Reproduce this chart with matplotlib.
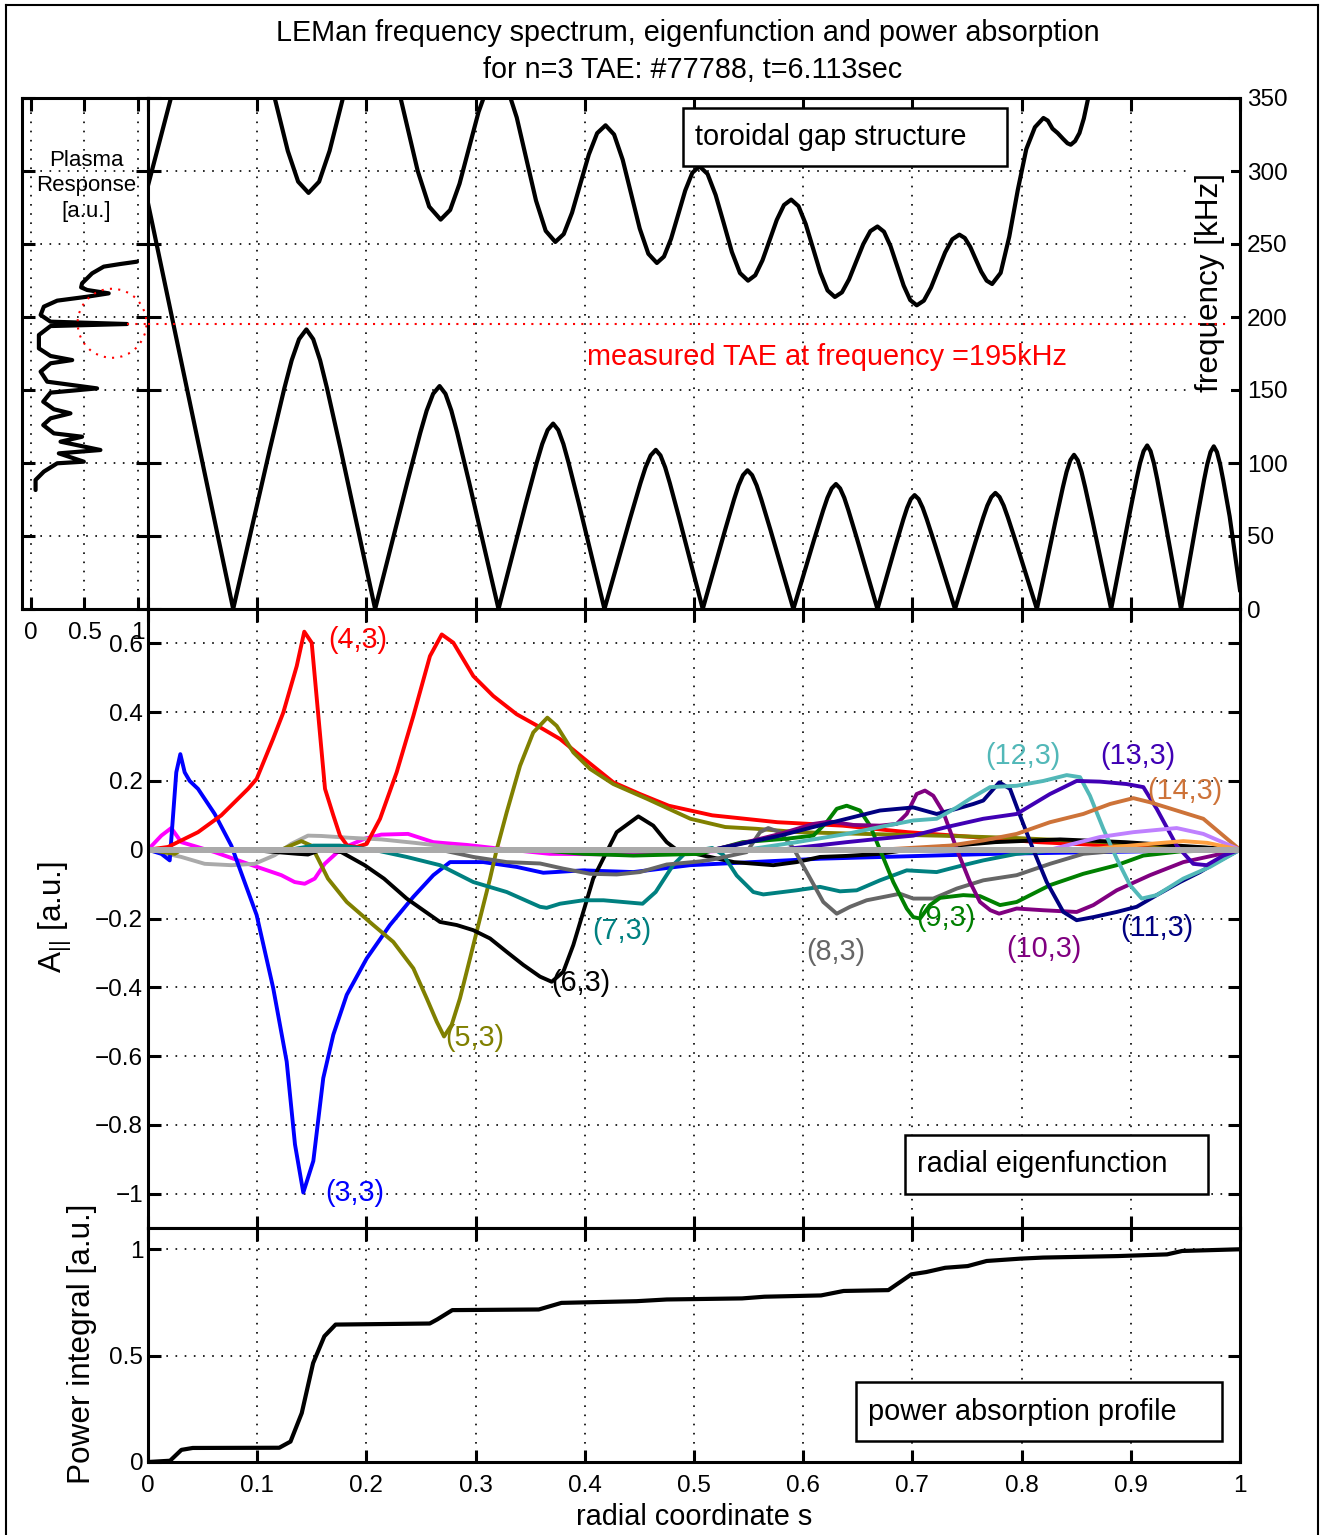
import matplotlib
matplotlib.use('Agg')
import matplotlib.pyplot as plt
from matplotlib.patches import Rectangle, Ellipse
from matplotlib.lines import Line2D
import numpy as np

plt.rcParams['font.family'] = ['Liberation Sans', 'DejaVu Sans']
plt.rcParams['mathtext.fontset'] = 'custom'
plt.rcParams['mathtext.rm'] = 'Liberation Sans'
plt.rcParams['mathtext.it'] = 'Liberation Sans'
plt.rcParams['axes.unicode_minus'] = True

# ---------------- data: toroidal gap structure ----------------
gap_lower_s = [0.0, 0.078,
               0.1115, 0.1249, 0.1316, 0.1383, 0.145, 0.1513, 0.1576, 0.1639, 0.1765, 0.208,
               0.2375, 0.2493, 0.2552, 0.2611, 0.267, 0.2724, 0.2778, 0.2832, 0.294, 0.321,
               0.346, 0.356, 0.361, 0.366, 0.371, 0.3757, 0.3804, 0.3851, 0.3945, 0.418,
               0.4415, 0.4509, 0.4556, 0.4603, 0.465, 0.4693, 0.4736, 0.4779, 0.4865, 0.508,
               0.5285, 0.5367, 0.5408, 0.5449, 0.549, 0.5532, 0.5574, 0.5616, 0.570, 0.591,
               0.6105, 0.6183, 0.6222, 0.6261, 0.630, 0.6338, 0.6376, 0.6414, 0.649, 0.668,
               0.685, 0.6918, 0.6952, 0.6986, 0.702, 0.7057, 0.7094, 0.7131, 0.7205, 0.739,
               0.7575, 0.7649, 0.7686, 0.7723, 0.776, 0.7798, 0.7836, 0.7874, 0.795, 0.814,
               0.831, 0.8378, 0.8412, 0.8446, 0.848, 0.8514, 0.8548, 0.8582, 0.865, 0.882,
               0.8985, 0.9051, 0.9084, 0.9117, 0.915, 0.9181, 0.9212, 0.9243, 0.9305, 0.946,
               0.961, 0.967, 0.970, 0.973, 0.976, 0.9789, 0.9818, 0.9847, 0.9905, 1.0]
gap_lower_f = [278, 0,
               109.2, 151.3, 170.4, 184.8, 191.5, 184.8, 170.4, 151.3, 109.2, 0,
               87.0, 120.6, 135.9, 147.4, 152.7, 147.4, 135.9, 120.6, 87.0, 0,
               72.4, 100.3, 113.0, 122.6, 127, 122.6, 113.0, 100.3, 72.4, 0,
               62.1, 86.1, 97.0, 105.2, 109, 105.2, 97.0, 86.1, 62.1, 0,
               54.2, 75.1, 84.6, 91.7, 95, 91.7, 84.6, 75.1, 54.2, 0,
               48.8, 67.6, 76.2, 82.6, 85.6, 82.6, 76.2, 67.6, 48.8, 0,
               44.5, 61.6, 69.4, 75.3, 78, 75.3, 69.4, 61.6, 44.5, 0,
               45.3, 62.8, 70.8, 76.7, 79.5, 76.7, 70.8, 62.8, 45.3, 0,
               60.2, 83.4, 94.0, 101.9, 105.6, 101.9, 94.0, 83.4, 60.2, 0,
               63.8, 88.5, 99.7, 108.1, 112, 108.1, 99.7, 88.5, 63.8, 0,
               63.5, 88.0, 99.1, 107.5, 111.4, 107.5, 99.1, 88.0, 63.5, 13]

gap_upper_s = [0.0, 0.021, 0.045, 0.07, 0.09, 0.0995, 0.109, 0.1185, 0.128, 0.1375, 0.147,
               0.1567, 0.1663, 0.176, 0.1857, 0.1953, 0.205,
               0.2155, 0.226, 0.2365, 0.247, 0.2575, 0.268,
               0.2767, 0.2853, 0.294, 0.3027, 0.3113, 0.32,
               0.3288, 0.3377, 0.3465, 0.3553, 0.3642, 0.373,
               0.3807, 0.3883, 0.396, 0.4037, 0.4113, 0.419,
               0.4268, 0.4347, 0.4425, 0.4503, 0.4582, 0.466,
               0.4725, 0.479, 0.4855, 0.492, 0.4985, 0.505,
               0.5124, 0.5198, 0.5273, 0.5347, 0.5421, 0.5495,
               0.5561, 0.5627, 0.5693, 0.5758, 0.5824, 0.589,
               0.5957, 0.6023, 0.609, 0.6157, 0.6223, 0.629,
               0.6355, 0.642, 0.6485, 0.655, 0.6615, 0.668,
               0.674, 0.68, 0.686, 0.692, 0.698, 0.704,
               0.7105, 0.717, 0.7235, 0.73, 0.7365, 0.743,
               0.748, 0.753, 0.758, 0.763, 0.768, 0.773,
               0.7808, 0.7887, 0.7965, 0.8043, 0.8122, 0.820,
               0.824, 0.8283, 0.833, 0.838, 0.842, 0.845,
               0.849, 0.853, 0.857, 0.861, 0.868]
gap_upper_f = [290, 350, 385, 398, 400, 392.3, 371.3, 342.5, 313.8, 292.7, 285,
               292.7, 313.8, 342.5, 371.3, 392.3, 400,
               391.1, 366.7, 333.4, 300.0, 275.6, 266.7,
               273.3, 291.3, 315.9, 340.4, 358.4, 365,
               357.4, 336.6, 308.2, 279.8, 259.0, 251.4,
               256.8, 271.4, 291.4, 311.3, 325.9, 331.3,
               325.0, 307.7, 284.2, 260.6, 243.3, 237,
               241.4, 253.6, 270.1, 286.7, 298.8, 303.2,
               298.0, 283.6, 264.1, 244.5, 230.1, 224.9,
               228.6, 238.8, 252.7, 266.5, 276.7, 280.4,
               275.9, 263.7, 247.1, 230.4, 218.2, 213.7,
               216.9, 225.8, 237.9, 249.9, 258.8, 262,
               258.4, 248.5, 235, 221.5, 211.6, 208,
               211.2, 220.1, 232.2, 244.3, 253.2, 256.4,
               254.1, 248.0, 239.5, 231.1, 224.9, 222.6,
               230.2, 255, 287, 315, 330, 336.3,
               334.5, 329, 326, 322, 319, 318,
               320.5, 326, 336, 350, 375]

measured_freq = 195

# ---------------- data: plasma response ----------------
resp_x = [0.988, 0.833, 0.679, 0.571, 0.478, 0.469, 0.525, 0.725, 0.525, 0.247,
          0.123, 0.093, 0.185, 0.895, 0.185, 0.077, 0.077, 0.185, 0.386, 0.185,
          0.093, 0.154, 0.617, 0.185, 0.117, 0.216, 0.370, 0.185, 0.117, 0.216,
          0.478, 0.278, 0.648, 0.262, 0.494, 0.247, 0.123, 0.046, 0.046]
resp_f = [237.9, 236.3, 234.5, 229.9, 223.1, 220.3, 218.5, 216.2, 213.9, 211.2,
          207.1, 201.4, 196.8, 195.2, 193.8, 187.7, 178.5, 173.3, 170.5, 168.3,
          162.6, 155.7, 151.1, 148.2, 142.0, 136.8, 134.0, 130.6, 126.0, 120.3,
          118.0, 114.6, 108.9, 106.6, 100.9, 99.8, 94.1, 88.4, 81.5]

# ---------------- data: radial eigenfunction ----------------
s_mag = [0, 0.0122, 0.0213, 0.0305, 0.0611, 0.0916, 0.1221, 0.1343, 0.1435, 0.1527, 0.1618,
         0.177, 0.1984, 0.2137, 0.2381, 0.2613, 0.2918, 0.3223, 0.3681, 0.4441, 0.5513, 1.0]
A_mag = [0, 0.041, 0.063, 0.022, -0.007, -0.041, -0.074, -0.094, -0.099, -0.084, -0.041,
         0.003, 0.032, 0.044, 0.046, 0.022, 0.014, 0.003, -0.012, -0.014, 0, 0]

s_lg = [0, 0.0305, 0.0519, 0.0763, 0.0977, 0.116, 0.1312, 0.1465, 0.1587, 0.1832, 0.2137,
        0.2442, 0.2766, 0.3223, 1.0]
A_lg = [0, -0.021, -0.041, -0.045, -0.041, -0.016, 0.017, 0.041, 0.04, 0.035, 0.03,
        0.02, 0.008, 0, 0]

s_33 = [0, 0.0122, 0.0199, 0.0259, 0.0296, 0.0336, 0.0382, 0.0458, 0.0611, 0.0763,
        0.0873, 0.0995, 0.1147, 0.127, 0.1346, 0.1422, 0.1514, 0.1605, 0.1697, 0.182,
        0.2003, 0.2216, 0.243, 0.2613, 0.2766, 0.3071, 0.3376, 0.362, 0.3986, 0.4444,
        0.4963, 0.6163, 0.7756, 1.0]
A_33 = [0, -0.012, -0.031, 0.225, 0.278, 0.225, 0.2, 0.177, 0.104, 0.012,
        -0.084, -0.19, -0.403, -0.616, -0.857, -0.997, -0.905, -0.664, -0.538, -0.422,
        -0.316, -0.219, -0.137, -0.074, -0.036, -0.036, -0.05, -0.067, -0.06, -0.065,
        -0.045, -0.026, -0.012, 0]

s_43 = [0, 0.0183, 0.0458, 0.0671, 0.0916, 0.0995, 0.1145, 0.1239, 0.1362, 0.1431,
        0.1499, 0.156, 0.1621, 0.1697, 0.1758, 0.1825, 0.1911, 0.2003, 0.2125, 0.2277,
        0.243, 0.2582, 0.269, 0.2796, 0.2979, 0.3162, 0.3376, 0.359, 0.3773, 0.4011,
        0.4261, 0.4505, 0.4768, 0.5167, 0.5764, 0.6361, 0.6958, 0.7555, 0.815, 0.8947, 1.0]
A_43 = [0, 0.008, 0.051, 0.1, 0.177, 0.206, 0.322, 0.399, 0.534, 0.634,
        0.602, 0.389, 0.177, 0.1, 0.041, 0.012, 0.008, 0.017, 0.09, 0.225,
        0.389, 0.563, 0.626, 0.602, 0.505, 0.447, 0.394, 0.356, 0.322, 0.26,
        0.196, 0.162, 0.128, 0.1, 0.08, 0.07, 0.051, 0.037, 0.022, 0.01, 0]

s_53 = [0, 0.0245, 0.0305, 0.1221, 0.1343, 0.1404, 0.1495, 0.1557, 0.1648, 0.182,
        0.2063, 0.2246, 0.243, 0.2552, 0.2644, 0.2711, 0.2781, 0.2857, 0.2949, 0.304,
        0.3132, 0.3193, 0.3285, 0.3407, 0.3528, 0.3657, 0.3743, 0.3895, 0.4048, 0.4261,
        0.457, 0.4967, 0.5286, 0.5565, 0.5962, 0.656, 0.7356, 0.7953, 0.875, 1.0]
A_53 = [0, -0.012, 0, 0, 0.017, 0.025, 0.012, -0.026, -0.084, -0.152,
        -0.219, -0.268, -0.345, -0.432, -0.5, -0.543, -0.509, -0.432, -0.316, -0.2,
        -0.084, 0, 0.109, 0.244, 0.341, 0.384, 0.36, 0.283, 0.235, 0.191,
        0.148, 0.09, 0.066, 0.061, 0.051, 0.046, 0.04, 0.034, 0.022, 0]

s_63 = [0, 0.0916, 0.1374, 0.1465, 0.1587, 0.177, 0.1984, 0.2161, 0.2369, 0.2521,
        0.2674, 0.2827, 0.2979, 0.3132, 0.3285, 0.3437, 0.359, 0.3697, 0.3803, 0.3895,
        0.3986, 0.4077, 0.4169, 0.4292, 0.449, 0.4627, 0.475, 0.4841, 0.5087, 0.5365,
        0.5726, 0.594, 0.6154, 0.6398, 0.6703, 0.6958, 0.7755, 0.8352, 0.8947, 1.0]
A_63 = [0, 0, -0.012, -0.014, 0, -0.007, -0.045, -0.084, -0.142, -0.176,
        -0.21, -0.219, -0.234, -0.258, -0.297, -0.335, -0.369, -0.384, -0.355, -0.277,
        -0.181, -0.084, -0.026, 0.051, 0.097, 0.07, 0.022, 0, -0.017, -0.036,
        -0.045, -0.036, -0.021, -0.018, -0.012, 0, 0.022, 0.03, 0.022, 0]

s_73 = [0, 0.13, 0.1514, 0.1758, 0.2063, 0.2369, 0.2674, 0.2979, 0.3285, 0.359,
        0.3651, 0.3773, 0.3986, 0.4171, 0.4529, 0.4649, 0.4808, 0.4928, 0.5167, 0.5268,
        0.5391, 0.5543, 0.5635, 0.594, 0.6154, 0.6337, 0.649, 0.6703, 0.6948, 0.7222,
        0.7466, 0.7649, 0.7955, 0.8352, 1.0]
A_73 = [0, 0, 0.012, 0.012, 0, -0.021, -0.045, -0.094, -0.123, -0.166,
        -0.169, -0.157, -0.147, -0.147, -0.157, -0.123, -0.045, -0.007, 0.005, -0.015,
        -0.075, -0.123, -0.13, -0.118, -0.108, -0.121, -0.118, -0.089, -0.06, -0.065,
        -0.045, -0.031, -0.012, 0, 0]

s_83 = [0, 0.2674, 0.2979, 0.3285, 0.359, 0.3803, 0.4048, 0.4292, 0.4505, 0.475,
        0.5055, 0.5177, 0.5482, 0.5604, 0.568, 0.5788, 0.5909, 0.6032, 0.6184, 0.6307,
        0.6429, 0.6581, 0.6886, 0.7008, 0.7191, 0.7406, 0.7649, 0.7955, 0.826, 0.8565,
        0.8993, 1.0]
A_83 = [0, 0, -0.021, -0.036, -0.04, -0.055, -0.07, -0.072, -0.065, -0.043,
        -0.034, -0.028, -0.007, 0.051, 0.063, 0.051, 0.005, -0.065, -0.152, -0.186,
        -0.166, -0.147, -0.128, -0.142, -0.142, -0.113, -0.089, -0.074, -0.041, -0.012,
        0, 0]

s_93 = [0, 0.3528, 0.3986, 0.4444, 0.5055, 0.5445, 0.5849, 0.6093, 0.6215, 0.6307,
        0.6398, 0.652, 0.6612, 0.6703, 0.6825, 0.6948, 0.7008, 0.707, 0.7161, 0.7253,
        0.7466, 0.7619, 0.7802, 0.7955, 0.826, 0.8565, 0.8871, 0.9115, 0.945, 1.0]
A_93 = [0, 0, -0.012, -0.017, -0.012, 0.022, 0.032, 0.041, 0.08, 0.119,
        0.128, 0.114, 0.07, 0, -0.094, -0.171, -0.196, -0.2, -0.161, -0.14,
        -0.132, -0.135, -0.161, -0.152, -0.103, -0.07, -0.045, -0.017, -0.005, 0]

s_103 = [0, 0.5177, 0.5482, 0.5788, 0.6093, 0.6245, 0.6459, 0.6703, 0.6856, 0.6948,
         0.7039, 0.7115, 0.7191, 0.7283, 0.7408, 0.7527, 0.7619, 0.7714, 0.7794, 0.7955,
         0.8199, 0.8504, 0.8657, 0.8871, 0.9176, 0.9481, 1.0]
A_103 = [0, 0, 0.022, 0.046, 0.075, 0.082, 0.072, 0.07, 0.075, 0.104,
         0.162, 0.172, 0.157, 0.109, 0, -0.094, -0.152, -0.176, -0.186, -0.171,
         -0.176, -0.181, -0.161, -0.118, -0.074, -0.036, 0]

s_113 = [0, 0.5174, 0.5788, 0.6093, 0.6398, 0.6703, 0.7008, 0.7222, 0.7406, 0.7558,
         0.7649, 0.7796, 0.7894, 0.7985, 0.8107, 0.823, 0.8382, 0.8504, 0.8657, 0.8871,
         0.9054, 0.9237, 0.9451, 0.9634, 0.9787, 1.0]
A_113 = [0, 0, 0.041, 0.066, 0.09, 0.114, 0.123, 0.104, 0.119, 0.133,
         0.143, 0.196, 0.177, 0.1, 0, -0.094, -0.181, -0.205, -0.196, -0.181,
         -0.166, -0.132, -0.094, -0.065, -0.036, 0]

s_123 = [0, 0.5482, 0.594, 0.6398, 0.6703, 0.7008, 0.7222, 0.7406, 0.7527, 0.7711,
         0.7955, 0.8199, 0.8413, 0.8535, 0.8626, 0.8748, 0.8871, 0.8993, 0.91, 0.9237,
         0.9481, 0.9725, 1.0]
A_123 = [0, 0, 0.022, 0.046, 0.066, 0.085, 0.09, 0.123, 0.148, 0.182,
         0.186, 0.2, 0.217, 0.211, 0.157, 0.061, -0.026, -0.103, -0.142, -0.132,
         -0.084, -0.05, 0]

s_133 = [0, 0.5788, 0.6398, 0.6703, 0.7008, 0.7314, 0.7649, 0.7955, 0.826, 0.8504,
         0.8718, 0.8962, 0.9115, 0.9237, 0.942, 0.9572, 0.9695, 0.9847, 1.0]
A_133 = [0, 0, 0.022, 0.032, 0.041, 0.066, 0.09, 0.104, 0.162, 0.2,
         0.198, 0.191, 0.182, 0.119, 0.012, -0.041, -0.045, -0.017, 0]

s_143 = [0, 0.6703, 0.7344, 0.7649, 0.7955, 0.826, 0.8565, 0.881, 0.9023, 0.9176,
         0.942, 0.9664, 0.9847, 1.0]
A_143 = [0, 0, 0.012, 0.027, 0.046, 0.08, 0.104, 0.133, 0.15, 0.138,
         0.114, 0.09, 0.041, 0]

s_153 = [0, 0.826, 0.8718, 0.9023, 0.942, 0.9664, 1.0]
A_153 = [0, 0, 0.037, 0.051, 0.063, 0.046, 0]

s_163 = [0, 0.8565, 0.9176, 0.9481, 0.97, 1.0]
A_163 = [0, 0, 0.017, 0.025, 0.02, 0]

s_flat = [0, 1.0]
A_flat = [0, 0]

mode_labels = ['(3,3)', '(4,3)', '(5,3)', '(6,3)', '(7,3)', '(8,3)', '(9,3)',
               '(10,3)', '(11,3)', '(12,3)', '(13,3)', '(14,3)']

# ---------------- data: power absorption ----------------
pow_s = [0, 0.0202, 0.0306, 0.041, 0.1202, 0.1305, 0.1408, 0.1512, 0.1615, 0.1718,
         0.258, 0.2648, 0.2787, 0.3579, 0.3786, 0.4475, 0.475, 0.544, 0.5646, 0.6163,
         0.637, 0.678, 0.699, 0.7127, 0.730, 0.7506, 0.768, 0.799, 0.8195, 0.888,
         0.9332, 0.947, 1.0]
pow_v = [0, 0.006, 0.057, 0.066, 0.067, 0.096, 0.23, 0.465, 0.591, 0.646,
         0.651, 0.67, 0.714, 0.717, 0.748, 0.756, 0.764, 0.769, 0.777, 0.783,
         0.804, 0.808, 0.882, 0.893, 0.913, 0.921, 0.945, 0.956, 0.961, 0.968,
         0.976, 0.992, 1.0]

# ---------------- figure ----------------
W, H = 1322, 1535
fig = plt.figure(figsize=(W / 100, H / 100), dpi=100)


def box(x0, y0, x1, y1):
    return [x0 / W, 1 - y1 / H, (x1 - x0) / W, (y1 - y0) / H]


def fx(x):
    return x / W


def fy(y):
    return 1 - y / H


ax_resp = fig.add_axes(box(22, 98, 148, 609))
ax_gap = fig.add_axes(box(148, 98, 1240, 609))
ax_eig = fig.add_axes(box(148, 609, 1240, 1228))
ax_pow = fig.add_axes(box(148, 1228, 1240, 1462))

GRID = dict(color='k', linestyle=(0, (1, 4.5)), linewidth=1.2)
TICK_FS = 17.5
LAB_FS = 20.8
YLAB_FS = 22.7


def style(ax):
    for sp in ax.spines.values():
        sp.set_linewidth(2.2)
    ax.tick_params(direction='in', length=9, width=2.2, top=True, right=True,
                   labelsize=TICK_FS)
    ax.grid(True, **GRID)


for a in (ax_resp, ax_gap, ax_eig, ax_pow):
    style(a)

xt = np.round(np.arange(0, 1.01, 0.1), 1)
xt_lab = ['0'] + ['%.1f' % v for v in xt[1:-1]] + ['1']

# --- plasma response panel ---
ax_resp.plot(resp_x, resp_f, color='k', lw=3.0, solid_capstyle='round', solid_joinstyle='round')
ax_resp.set_xlim(-0.08, 1.09)
ax_resp.set_ylim(0, 350)
ax_resp.set_xticks([0, 0.5, 1])
ax_resp.set_xticklabels(['0', '0.5', '1'])
ax_resp.set_yticks(range(0, 351, 50))
ax_resp.tick_params(labelleft=False, pad=9.5)
ax_resp.plot([0.895, 1.09], [measured_freq, measured_freq], color='red', lw=1.5,
             linestyle=(0, (1, 3)), zorder=4, clip_on=False)
ax_resp.add_patch(Ellipse((0.756, 195.7), 0.639, 47.3, fill=False, edgecolor='red',
                          lw=1.5, linestyle=(0, (1, 3)), clip_on=False, zorder=4))
fig.text(fx(86), fy(186), 'Plasma\nResponse\n[a.u.]', fontsize=16, ha='center',
         va='center', multialignment='center', linespacing=1.25)

# --- gap panel ---
ax_gap.plot(gap_lower_s, gap_lower_f, color='k', lw=3.0, solid_joinstyle='round')
ax_gap.plot(gap_upper_s, gap_upper_f, color='k', lw=3.0, solid_joinstyle='round')
ax_gap.plot([0, 0.99], [measured_freq, measured_freq], color='red', lw=1.5,
            linestyle=(0, (1, 3)), zorder=4)
ax_gap.set_xlim(0, 1)
ax_gap.set_ylim(0, 350)
ax_gap.set_xticks(xt)
ax_gap.set_yticks(range(0, 351, 50))
ax_gap.tick_params(labelbottom=False, labelleft=False, labelright=True, pad=5)
ax_gap.text(0.402, 172.6, 'measured TAE at frequency =195kHz', color='red',
            fontsize=LAB_FS, ha='left', va='center')
ax_gap.text(fx(1210), fy(282), 'frequency [kHz]', transform=fig.transFigure,
            rotation=90, fontsize=YLAB_FS, ha='center', va='center', zorder=3,
            bbox=dict(facecolor='white', edgecolor='none', pad=4.5))

# --- eigenfunction panel ---
curves = [
    (s_mag, A_mag, '#FF00FF'),
    (s_lg, A_lg, '#AAAAAA'),
    (s_33, A_33, '#0000FF'),
    (s_43, A_43, '#FF0000'),
    (s_53, A_53, '#808000'),
    (s_63, A_63, '#000000'),
    (s_73, A_73, '#008080'),
    (s_83, A_83, '#666666'),
    (s_93, A_93, '#008000'),
    (s_103, A_103, '#800080'),
    (s_113, A_113, '#000080'),
    (s_123, A_123, '#52B8B8'),
    (s_133, A_133, '#4000B4'),
    (s_143, A_143, '#CD7339'),
    (s_153, A_153, '#BF80FF'),
    (s_163, A_163, '#FFA040'),
]
for s, A, c in curves:
    ax_eig.plot(s, A, color=c, lw=2.8, solid_joinstyle='round')
ax_eig.plot(s_flat, A_flat, color='#AAAAAA', lw=4.3)

ax_eig.set_xlim(0, 1)
ax_eig.set_ylim(-1.1, 0.7)
ax_eig.set_xticks(xt)
yt = [-1, -0.8, -0.6, -0.4, -0.2, 0, 0.2, 0.4, 0.6]
ax_eig.set_yticks(yt)
ax_eig.set_yticklabels(['\u22121', '\u22120.8', '\u22120.6', '\u22120.4', '\u22120.2',
                        '0', '0.2', '0.4', '0.6'])
ax_eig.tick_params(labelbottom=False, pad=3.5)

label_pos = [(0.1621, -0.997, '#0000FF'), (0.1648, 0.609, '#FF0000'),
             (0.272, -0.548, '#808000'), (0.369, -0.388, '#000000'),
             (0.4066, -0.235, '#008080'), (0.6026, -0.296, '#666666'),
             (0.7033, -0.2, '#008000'), (0.7857, -0.29, '#800080'),
             (0.8901, -0.229, '#000080'), (0.7665, 0.272, '#52B8B8'),
             (0.8718, 0.272, '#4000B4'), (0.9148, 0.171, '#CD7339')]
for lab, (x, y, c) in zip(mode_labels, label_pos):
    ax_eig.text(x, y, lab, color=c, fontsize=LAB_FS, ha='left', va='center', zorder=6)

# --- power panel ---
ax_pow.plot(pow_s, pow_v, color='k', lw=3.0, solid_joinstyle='round')
ax_pow.set_xlim(0, 1)
ax_pow.set_ylim(0, 1.1)
ax_pow.set_xticks(xt)
ax_pow.set_xticklabels(xt_lab)
ax_pow.set_yticks([0, 0.5, 1])
ax_pow.set_yticklabels(['0', '0.5', '1'])
ax_pow.tick_params(axis='x', pad=9.5)
ax_pow.tick_params(axis='y', pad=3.5)

# --- annotation boxes ---
for (x0, y0, x1, y1), txt in [((683, 108, 1007, 166), 'toroidal gap structure'),
                               ((905, 1135, 1208, 1194), 'radial eigenfunction'),
                               ((856, 1382, 1222, 1441), 'power absorption profile')]:
    fig.add_artist(Rectangle((fx(x0), fy(y1)), (x1 - x0) / W, (y1 - y0) / H,
                             transform=fig.transFigure, facecolor='white',
                             edgecolor='black', lw=1.8, zorder=5))
    fig.text(fx(x0 + 12), fy((y0 + y1) / 2), txt, fontsize=LAB_FS, ha='left',
             va='center', zorder=6)

# --- titles and axis labels ---
fig.text(fx(688), fy(33), 'LEMan frequency spectrum, eigenfunction and power absorption',
         fontsize=20.7, ha='center', va='center')
fig.text(fx(693), fy(70), 'for n=3 TAE: #77788, t=6.113sec', fontsize=20.7,
         ha='center', va='center')
fig.text(fx(55), fy(917), 'A$_{||}$ [a.u.]', rotation=90, fontsize=YLAB_FS,
         ha='center', va='center')
fig.text(fx(82), fy(1344), 'Power integral [a.u.]', rotation=90, fontsize=YLAB_FS,
         ha='center', va='center')
fig.text(fx(694), fy(1517), 'radial coordinate s', fontsize=LAB_FS, ha='center',
         va='center')

# --- outer frame ---
for xs, ys in [((6, 6), (5, 1535)), ((6, 1318), (5, 5)), ((1318, 1318), (5, 1535))]:
    fig.add_artist(Line2D([fx(v) for v in xs], [fy(v) for v in ys],
                          transform=fig.transFigure, color='k', lw=1.5))

fig.savefig('out.png', dpi=100)
